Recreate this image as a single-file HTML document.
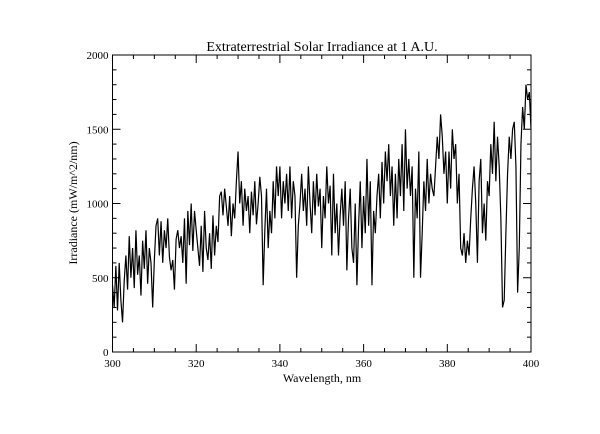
<!DOCTYPE html>
<html><head><meta charset="utf-8"><style>
html,body{margin:0;padding:0;background:#fff;}
svg text{font-family:"Liberation Serif",serif;fill:#000;}
</style></head><body>
<svg id="chart" width="600" height="429" viewBox="0 0 600 429" xmlns="http://www.w3.org/2000/svg">
<rect x="0" y="0" width="600" height="429" fill="#fff"/>
<text x="322" y="51" font-size="14" text-anchor="middle">Extraterrestrial Solar Irradiance at 1 A.U.</text>
<text x="322" y="382" font-size="12" text-anchor="middle">Wavelength, nm</text>
<text transform="translate(77,203) rotate(-90)" font-size="12" text-anchor="middle">Irradiance (mW/m^2/nm)</text>
<g id="axes"></g>
<path id="series" fill="none" stroke="#000" stroke-width="1.2"/>
</svg>
<script>
const xStart = 300;
const xEnd = 400;
const irradiance = [
450,300,580,280,600,350,200,480,650,420,780,500,700,430,820,520,650,380,750,560,820,460,700,600,300,
620,850,900,650,880,600,820,700,900,640,550,620,420,760,820,700,780,600,900,460,950,720,1000,680,950,
820,700,580,850,540,950,700,620,800,560,920,650,850,740,1050,1080,920,1100,980,850,1050,780,1000,900,1150,
1350,1000,1150,850,1100,950,1050,800,1080,920,1150,860,1000,1180,1050,450,820,1100,700,950,800,1150,900,1250,1050,
1250,900,1150,1000,1200,950,1250,900,1150,1050,500,850,1000,1200,950,1100,850,1250,1000,800,1150,920,1200,980,1100,
700,1050,900,1250,1000,1120,650,1200,800,1000,650,920,1100,850,1150,550,900,1100,700,600,1000,450,850,1150,700,
1050,800,1300,850,1150,450,950,800,1050,1200,900,1280,1000,1350,1150,1400,1050,1250,850,1200,900,1300,1050,1400,950,
1500,1100,1300,1050,1250,500,1100,900,1350,500,800,1150,950,1300,1000,1200,1100,1050,1250,1450,1300,1600,1450,1200,1350,
1000,1350,1100,1500,1300,1400,1000,1200,700,650,800,600,750,650,900,1100,1250,1000,600,1150,1300,800,1000,750,1150,
1050,1400,1200,1550,1150,1450,1250,900,300,350,800,1200,1450,1300,1500,1550,1250,400,700,1400,1650,1500,1800,1700,1750,1500
];
const yTicks = [0,500,1000,1500,2000];
const xTicks = [300,320,340,360,380,400];

const L=112.5, R=531, T=55, B=352;
const xs = v => L + (v-300)/(400-300)*(R-L);
const ys = v => B - v/2000*(B-T);
const NS="http://www.w3.org/2000/svg";
const axes=document.getElementById('axes');
function mk(tag,attrs){const e=document.createElementNS(NS,tag);for(const k in attrs)e.setAttribute(k,attrs[k]);return e;}

const frame=mk('rect',{x:L,y:T,width:R-L,height:B-T,fill:'none',stroke:'#000','stroke-width':1});


axes.appendChild(frame);

for(let v=0; v<=2000; v+=100){
  const y=ys(v), len=(v%500===0)?8:4;
  const t1=mk('line',{x1:L,x2:L+len,y1:y,y2:y,stroke:'#000'});
  
  
  axes.appendChild(t1);
  const t2=mk('line',{x1:R,x2:R-len,y1:y,y2:y,stroke:'#000'});
  
  
  axes.appendChild(t2);
}
yTicks.forEach(v=>{
  const t=mk('text',{x:L-4,y:ys(v)+4,'font-size':11,'text-anchor':'end'});
  t.textContent=v;
  
  
  axes.appendChild(t);
});
for(let v=300; v<=400; v+=5){
  const x=xs(v), len=(v%20===0)?8:4;
  const t1=mk('line',{x1:x,x2:x,y1:B,y2:B-len,stroke:'#000'});
  
  
  axes.appendChild(t1);
  const t2=mk('line',{x1:x,x2:x,y1:T,y2:T+len,stroke:'#000'});
  
  
  axes.appendChild(t2);
}
xTicks.forEach(v=>{
  const t=mk('text',{x:xs(v),y:B+15,'font-size':11,'text-anchor':'middle'});
  t.textContent=v;
  
  
  axes.appendChild(t);
});

const n=irradiance.length;
const step=(xEnd-xStart)/(n-1);
let d='';
irradiance.forEach((v,i)=>{d+=(i?'L':'M')+xs(xStart+i*step).toFixed(2)+','+ys(v).toFixed(2);});
document.getElementById('series').setAttribute('d',d);
</script>
</body></html>
